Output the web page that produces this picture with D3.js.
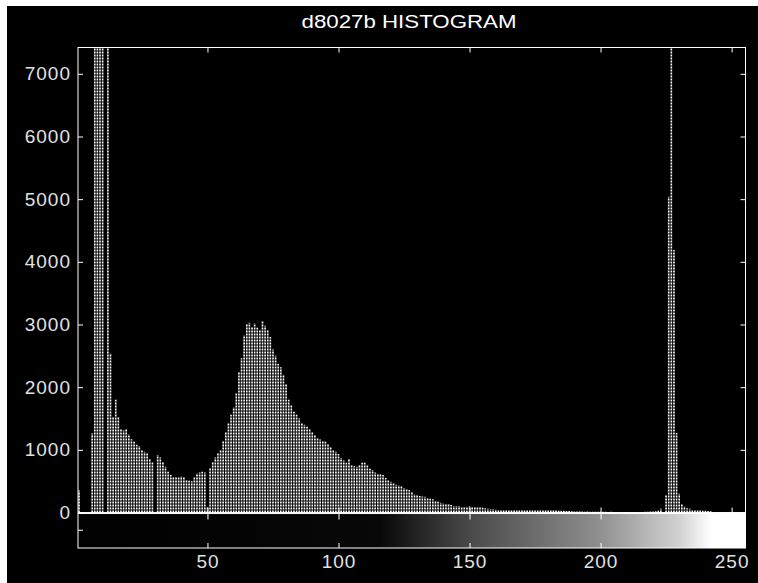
<!DOCTYPE html>
<html>
<head>
<meta charset="utf-8">
<script src="https://cdnjs.cloudflare.com/ajax/libs/d3/7.8.5/d3.min.js"></script>
<style>
  html, body { margin: 0; padding: 0; background: #ffffff; }
  #chart svg { display: block; }
  .tick text { fill: #e0e0e0; font-family: "Liberation Sans", Arial, sans-serif; font-size: 19px; letter-spacing: 1px; }
  .tick line { stroke: #ffffff; }
</style>
</head>
<body>
<div id="chart"></div>
<script>
// histogram counts, one per grey level 0..255
const counts = [
    0, 350, 0, 0, 0, 0, 1260, 9000, 9500, 9200,
    8800, 0, 12000, 2540, 1530, 1800, 1530, 1340, 1310, 1340,
    1250, 1170, 1130, 1080, 1060, 1000, 970, 940, 850, 800,
    0, 917, 880, 810, 730, 650, 598, 571, 571, 560,
    580, 565, 510, 507, 500, 560, 625, 640, 651, 640,
    93, 705, 810, 880, 944, 997, 1150, 1290, 1420, 1560,
    1680, 1900, 2250, 2460, 2830, 3010, 3030, 2960, 3020, 2950,
    2910, 3060, 2980, 2910, 2800, 2600, 2500, 2370, 2320, 2200,
    2050, 1800, 1710, 1610, 1560, 1500, 1420, 1400, 1370, 1330,
    1290, 1240, 1180, 1165, 1140, 1130, 1090, 1040, 990, 970,
    935, 870, 830, 795, 850, 760, 740, 730, 760, 795,
    795, 760, 700, 678, 640, 620, 610, 600, 550, 520,
    490, 466, 445, 435, 425, 390, 380, 360, 330, 290,
    275, 265, 255, 250, 230, 220, 210, 190, 170, 156,
    148, 145, 136, 120, 105, 104, 104, 98, 93, 95,
    104, 93, 93, 85, 83, 75, 67, 60, 58, 55,
    52, 50, 50, 48, 48, 46, 46, 45, 45, 44,
    44, 42, 42, 40, 40, 40, 38, 38, 36, 36,
    35, 34, 34, 32, 30, 30, 28, 26, 24, 20,
    18, 16, 15, 16, 14, 15, 13, 12, 14, 12,
    12, 11, 12, 10, 11, 10, 10, 9, 10, 9,
    9, 8, 9, 8, 8, 10, 9, 12, 14, 16,
    18, 22, 30, 60, 0, 280, 5040, 16000, 4190, 1270,
    300, 140, 100, 70, 60, 50, 45, 40, 35, 30,
    30, 25, 20, 10, 6, 5, 4, 3, 2, 2,
    1, 1, 0, 0, 0, 0
];
const levels = counts.map((d, i) => i);

const xTicks = [50, 100, 150, 200, 250];
const yTicks = [0, 1000, 2000, 3000, 4000, 5000, 6000, 7000];
const xLimits = [0.6, 255.3];
const yLimits = [-566, 7420];
const title = "d8027b HISTOGRAM";

const width = 758, height = 583;

const svg = d3.select("#chart")
    .append("svg")
    .attr("width", width)
    .attr("height", height);

// black figure background
svg.append("rect")
    .attr("x", 7).attr("y", 6)
    .attr("width", width - 7).attr("height", height - 6)
    .attr("fill", "#000000");

const x = d3.scaleLinear().domain(xLimits).range([78, 745.5]);
const y = d3.scaleLinear().domain(yLimits).range([548, 47.5]);

const axLeft = x(xLimits[0]), axRight = x(xLimits[1]);
const axTop = y(yLimits[1]), axBase = y(0), axBottom = y(yLimits[0]);

// grey colour bar under the histogram
const defs = svg.append("defs");
const grad = defs.append("linearGradient")
    .attr("id", "greyramp")
    .attr("gradientUnits", "userSpaceOnUse")
    .attr("x1", x(0)).attr("x2", x(255))
    .attr("y1", 0).attr("y2", 0);
[[0, "#000000"], [0.455, "#080808"], [0.59, "#4a4a4a"], [0.78, "#8e8e8e"],
 [0.9, "#d0d0d0"], [0.95, "#ffffff"], [1, "#ffffff"]].forEach(s => {
    grad.append("stop").attr("offset", s[0]).attr("stop-color", s[1]);
});

svg.append("rect")
    .attr("x", axLeft).attr("y", axBase)
    .attr("width", axRight - axLeft).attr("height", axBottom - axBase)
    .attr("fill", "url(#greyramp)");

defs.append("clipPath").attr("id", "histclip")
    .append("rect")
    .attr("x", axLeft).attr("y", axTop)
    .attr("width", axRight - axLeft).attr("height", axBase - axTop);

// stems
svg.append("g")
    .attr("clip-path", "url(#histclip)")
    .selectAll("line")
    .data(levels.filter(i => counts[i] > 0))
    .enter()
    .append("line")
    .attr("x1", d => x(d)).attr("x2", d => x(d))
    .attr("y1", y(0))
    .attr("y2", d => y(counts[d]))
    .attr("stroke", "#ffffff")
    .attr("stroke-width", 1.6)
    .attr("stroke-dasharray", "2,1");

// axes, ticks pointing inward like the original
function cleanAxis(g) {
    g.select(".domain").remove();
}

svg.append("g")
    .attr("transform", `translate(${axLeft},0)`)
    .call(d3.axisLeft(y).tickValues(yTicks).tickSize(-5).tickPadding(7).tickFormat(d3.format("d")))
    .call(cleanAxis);

svg.append("g")
    .attr("transform", `translate(${axRight},0)`)
    .call(d3.axisRight(y).tickValues(yTicks).tickSize(-5).tickFormat(""))
    .call(cleanAxis);

svg.append("g")
    .attr("transform", `translate(0,${axTop})`)
    .call(d3.axisTop(x).tickValues(xTicks).tickSize(-5).tickFormat(""))
    .call(cleanAxis);

svg.append("g")
    .attr("transform", `translate(0,${axBase})`)
    .call(d3.axisBottom(x).tickValues(xTicks).tickSize(-5).tickFormat(""))
    .call(cleanAxis);

svg.append("g")
    .attr("transform", `translate(0,${axBase + 1})`)
    .call(d3.axisTop(x).tickValues(xTicks).tickSize(-6).tickFormat(""))
    .call(cleanAxis);

svg.append("g")
    .attr("transform", `translate(0,${axBottom})`)
    .call(d3.axisBottom(x).tickValues(xTicks).tickSize(-5).tickPadding(7))
    .call(cleanAxis);

// colour bar side tick
const midBar = (axBase + axBottom) / 2;
svg.append("line")
    .attr("x1", axLeft).attr("x2", axLeft + 5)
    .attr("y1", midBar).attr("y2", midBar)
    .attr("stroke", "#ffffff");

// axes boxes
svg.append("rect")
    .attr("x", axLeft).attr("y", axTop)
    .attr("width", axRight - axLeft).attr("height", axBase - axTop)
    .attr("fill", "none").attr("stroke", "#ffffff").attr("stroke-width", 1);

svg.append("rect")
    .attr("x", axLeft).attr("y", axBase + 1)
    .attr("width", axRight - axLeft).attr("height", axBottom - axBase - 1)
    .attr("fill", "none").attr("stroke", "#ffffff").attr("stroke-width", 1);

svg.append("text")
    .attr("x", 409)
    .attr("y", 28)
    .attr("text-anchor", "middle")
    .attr("fill", "#ffffff")
    .attr("font-family", "Liberation Sans, Arial, sans-serif")
    .attr("font-size", 18)
    .attr("textLength", 215)
    .attr("lengthAdjust", "spacingAndGlyphs")
    .text(title);
</script>
</body>
</html>
